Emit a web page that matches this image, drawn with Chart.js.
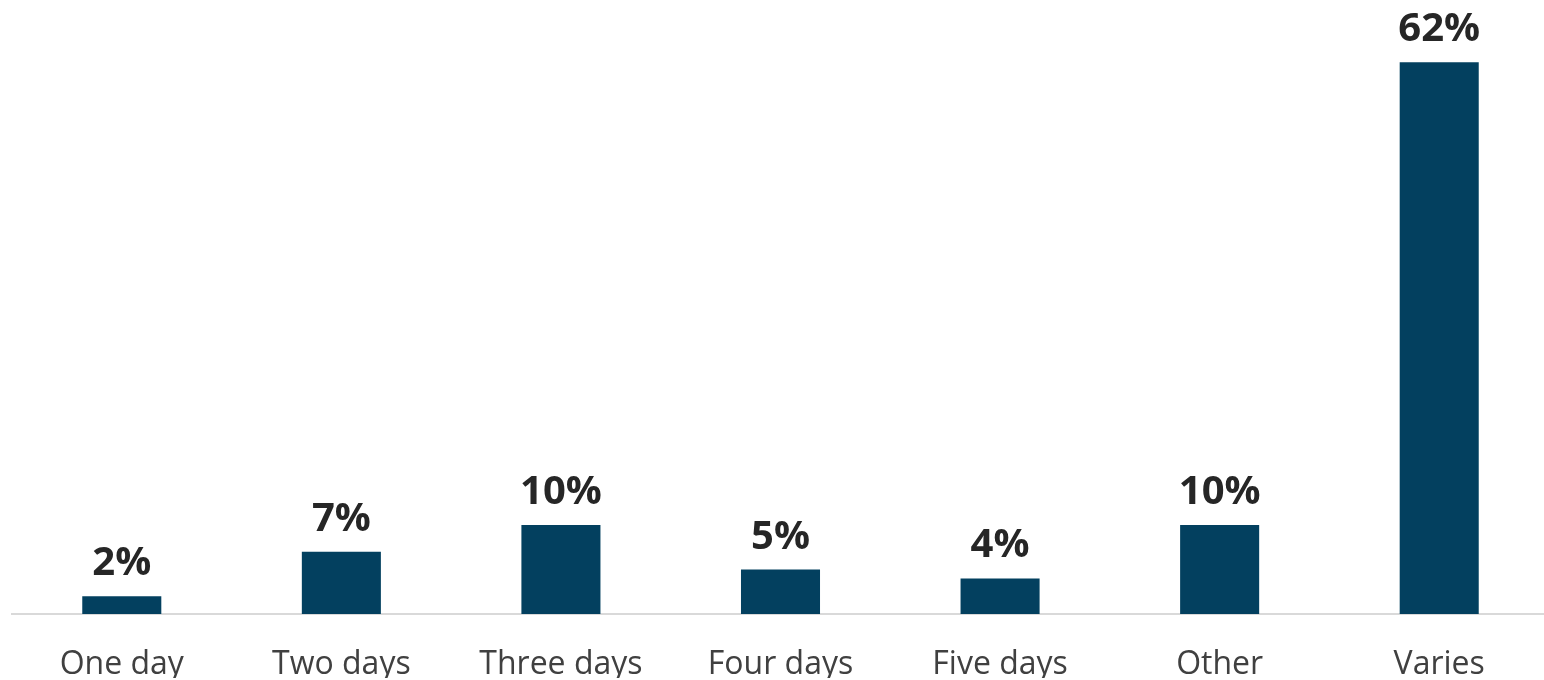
<!DOCTYPE html>
<html>
<head>
<meta charset="utf-8">
<script src="https://cdn.jsdelivr.net/npm/chart.js@4/dist/chart.umd.min.js"></script>
<style>
  html, body { margin: 0; padding: 0; background: #ffffff; overflow: hidden; }
  #wrap { width: 1550px; height: 680px; position: relative; }
</style>
</head>
<body>
<div id="wrap"><canvas id="c"></canvas></div>
<script>
const categories = ["One day", "Two days", "Three days", "Four days", "Five days", "Other", "Varies"];
const values = [2, 7, 10, 5, 4, 10, 62];
const valueLabels = ["2%", "7%", "10%", "5%", "4%", "10%", "62%"];

const barColor = "#03405F";

const valueLabelPlugin = {
  id: "valueLabels",
  afterDatasetsDraw(chart) {
    const ctx = chart.ctx;
    const meta = chart.getDatasetMeta(0);
    ctx.save();
    ctx.font = "bold 40px 'Open Sans'";
    ctx.fillStyle = "#262626";
    ctx.textAlign = "center";
    ctx.textBaseline = "alphabetic";
    meta.data.forEach((bar, i) => {
      ctx.fillText(valueLabels[i], bar.x, bar.y - 21);
    });
    ctx.restore();
  }
};

new Chart(document.getElementById("c"), {
  type: "bar",
  data: {
    labels: categories,
    datasets: [{
      data: values,
      backgroundColor: barColor,
      borderWidth: 0,
      barPercentage: 0.36,
      categoryPercentage: 1.0
    }]
  },
  options: {
    responsive: true,
    maintainAspectRatio: false,
    animation: false,
    layout: { padding: { left: 12, right: 1, top: 0, bottom: 2 } },
    plugins: { legend: { display: false }, tooltip: { enabled: false } },
    scales: {
      x: {
        grid: { display: false, drawTicks: false },
        border: { display: true, color: "#D9D9D9", width: 2 },
        ticks: {
          color: "#404040",
          font: { family: "'Open Sans'", size: 32 },
          padding: 32,
          maxRotation: 0,
          autoSkip: false
        },
        afterFit: (scale) => { scale.height = 64; }
      },
      y: {
        display: false,
        min: 0,
        max: 69,
        grid: { display: false }
      }
    }
  },
  plugins: [valueLabelPlugin]
});
</script>
</body>
</html>
